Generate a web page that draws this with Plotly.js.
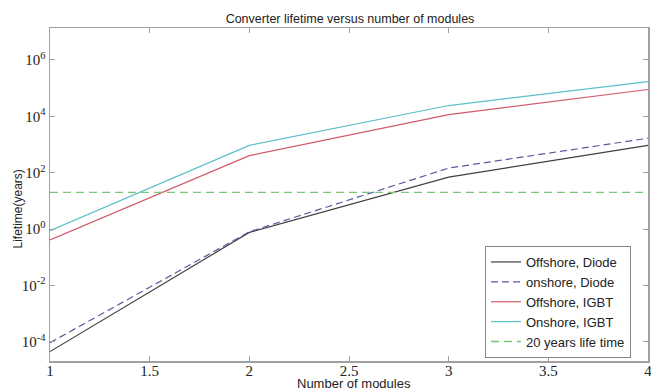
<!DOCTYPE html>
<html>
<head>
<meta charset="utf-8">
<script src="https://cdn.plot.ly/plotly-3.0.1.min.js"></script>
<style>html,body{margin:0;padding:0;background:#fff;}#chart{width:651px;height:392px;}</style>
</head>
<body>
<div id="chart"></div>
<script>
// Data
const modules = [1, 2, 3, 4];
const offshoreDiode = [4.5e-5, 0.76, 69, 930];
const onshoreDiode = [9.3e-5, 0.80, 145, 1660];
const offshoreIGBT = [0.41, 400, 11500, 89000];
const onshoreIGBT = [0.87, 930, 24000, 170000];
const lifeTarget = [20, 20, 20, 20];

const yTickVals = [1e-4, 1e-2, 1, 1e2, 1e4, 1e6];
const yTickText = ['10<sup>-4</sup>', '10<sup>-2</sup>', '10<sup>0</sup>', '10<sup>2</sup>', '10<sup>4</sup>', '10<sup>6</sup>'];
const xTickVals = [1, 1.5, 2, 2.5, 3, 3.5, 4];
const xTickText = ['1', '1.5', '2', '2.5', '3', '3.5', '4'];

const traces = [
  {x: modules, y: offshoreDiode, name: 'Offshore, Diode', mode: 'lines', line: {color: '#404040', width: 1.2}},
  {x: modules, y: onshoreDiode, name: 'onshore, Diode', mode: 'lines', line: {color: '#5a5aa0', width: 1.2, dash: '7px,4px'}},
  {x: modules, y: offshoreIGBT, name: 'Offshore, IGBT', mode: 'lines', line: {color: '#d25a68', width: 1.2}},
  {x: modules, y: onshoreIGBT, name: 'Onshore, IGBT', mode: 'lines', line: {color: '#5cc0c8', width: 1.2}},
  {x: modules, y: lifeTarget, name: '20 years life time', mode: 'lines', line: {color: '#78c878', width: 1.4, dash: '8px,5px'}}
];

const axisCommon = {
  showline: true, mirror: 'ticks', linecolor: '#a0a0a0', linewidth: 1.5,
  ticks: 'inside', ticklen: 5, tickcolor: '#a0a0a0', tickwidth: 1,
  showgrid: false, zeroline: false, ticklabeloverflow: 'allow',
  tickfont: {family: 'Liberation Serif, Times New Roman, serif', size: 15, color: '#222'}
};

const layout = {
  width: 651, height: 392,
  margin: {l: 50, r: 3, t: 28, b: 31, pad: 0},
  paper_bgcolor: '#fff', plot_bgcolor: '#fff',
  showlegend: true,
  title: {text: 'Converter lifetime versus number of modules', font: {family: 'Liberation Sans, Arial, sans-serif', size: 12.5, color: '#222'}, x: 350 / 651, xanchor: 'center', y: 1 - 18.7/392, yanchor: 'middle'},
  xaxis: Object.assign({}, axisCommon, {range: [1, 4], tickvals: xTickVals, ticktext: xTickText, ticklabelstandoff: -5}),
  yaxis: Object.assign({}, axisCommon, {type: 'log', range: [-4.68, 7.13], tickvals: yTickVals, ticktext: yTickText}),
  legend: {
    x: (485 - 50) / 598, y: (361 - 246) / 333, xanchor: 'left', yanchor: 'top',
    bgcolor: '#fff', bordercolor: '#888', borderwidth: 1,
    font: {family: 'Liberation Sans, Arial, sans-serif', size: 13, color: '#222'},
    itemwidth: 30, tracegroupgap: 0
  },
  annotations: [
    {text: 'Lifetime(years)', textangle: -90, xref: 'paper', yref: 'paper', x: (17 - 50) / 598, y: (361 - 209.5) / 333, xanchor: 'center', yanchor: 'middle', showarrow: false, font: {family: 'Liberation Sans, Arial, sans-serif', size: 12, color: '#222'}},
    {text: 'Number of modules', xref: 'paper', yref: 'paper', x: (354 - 50) / 598, y: (361 - 383) / 333, xanchor: 'center', yanchor: 'middle', showarrow: false, font: {family: 'Liberation Sans, Arial, sans-serif', size: 13, color: '#222'}}
  ]
};

Plotly.newPlot('chart', traces, layout, {displayModeBar: false, staticPlot: true});
</script>
</body>
</html>
